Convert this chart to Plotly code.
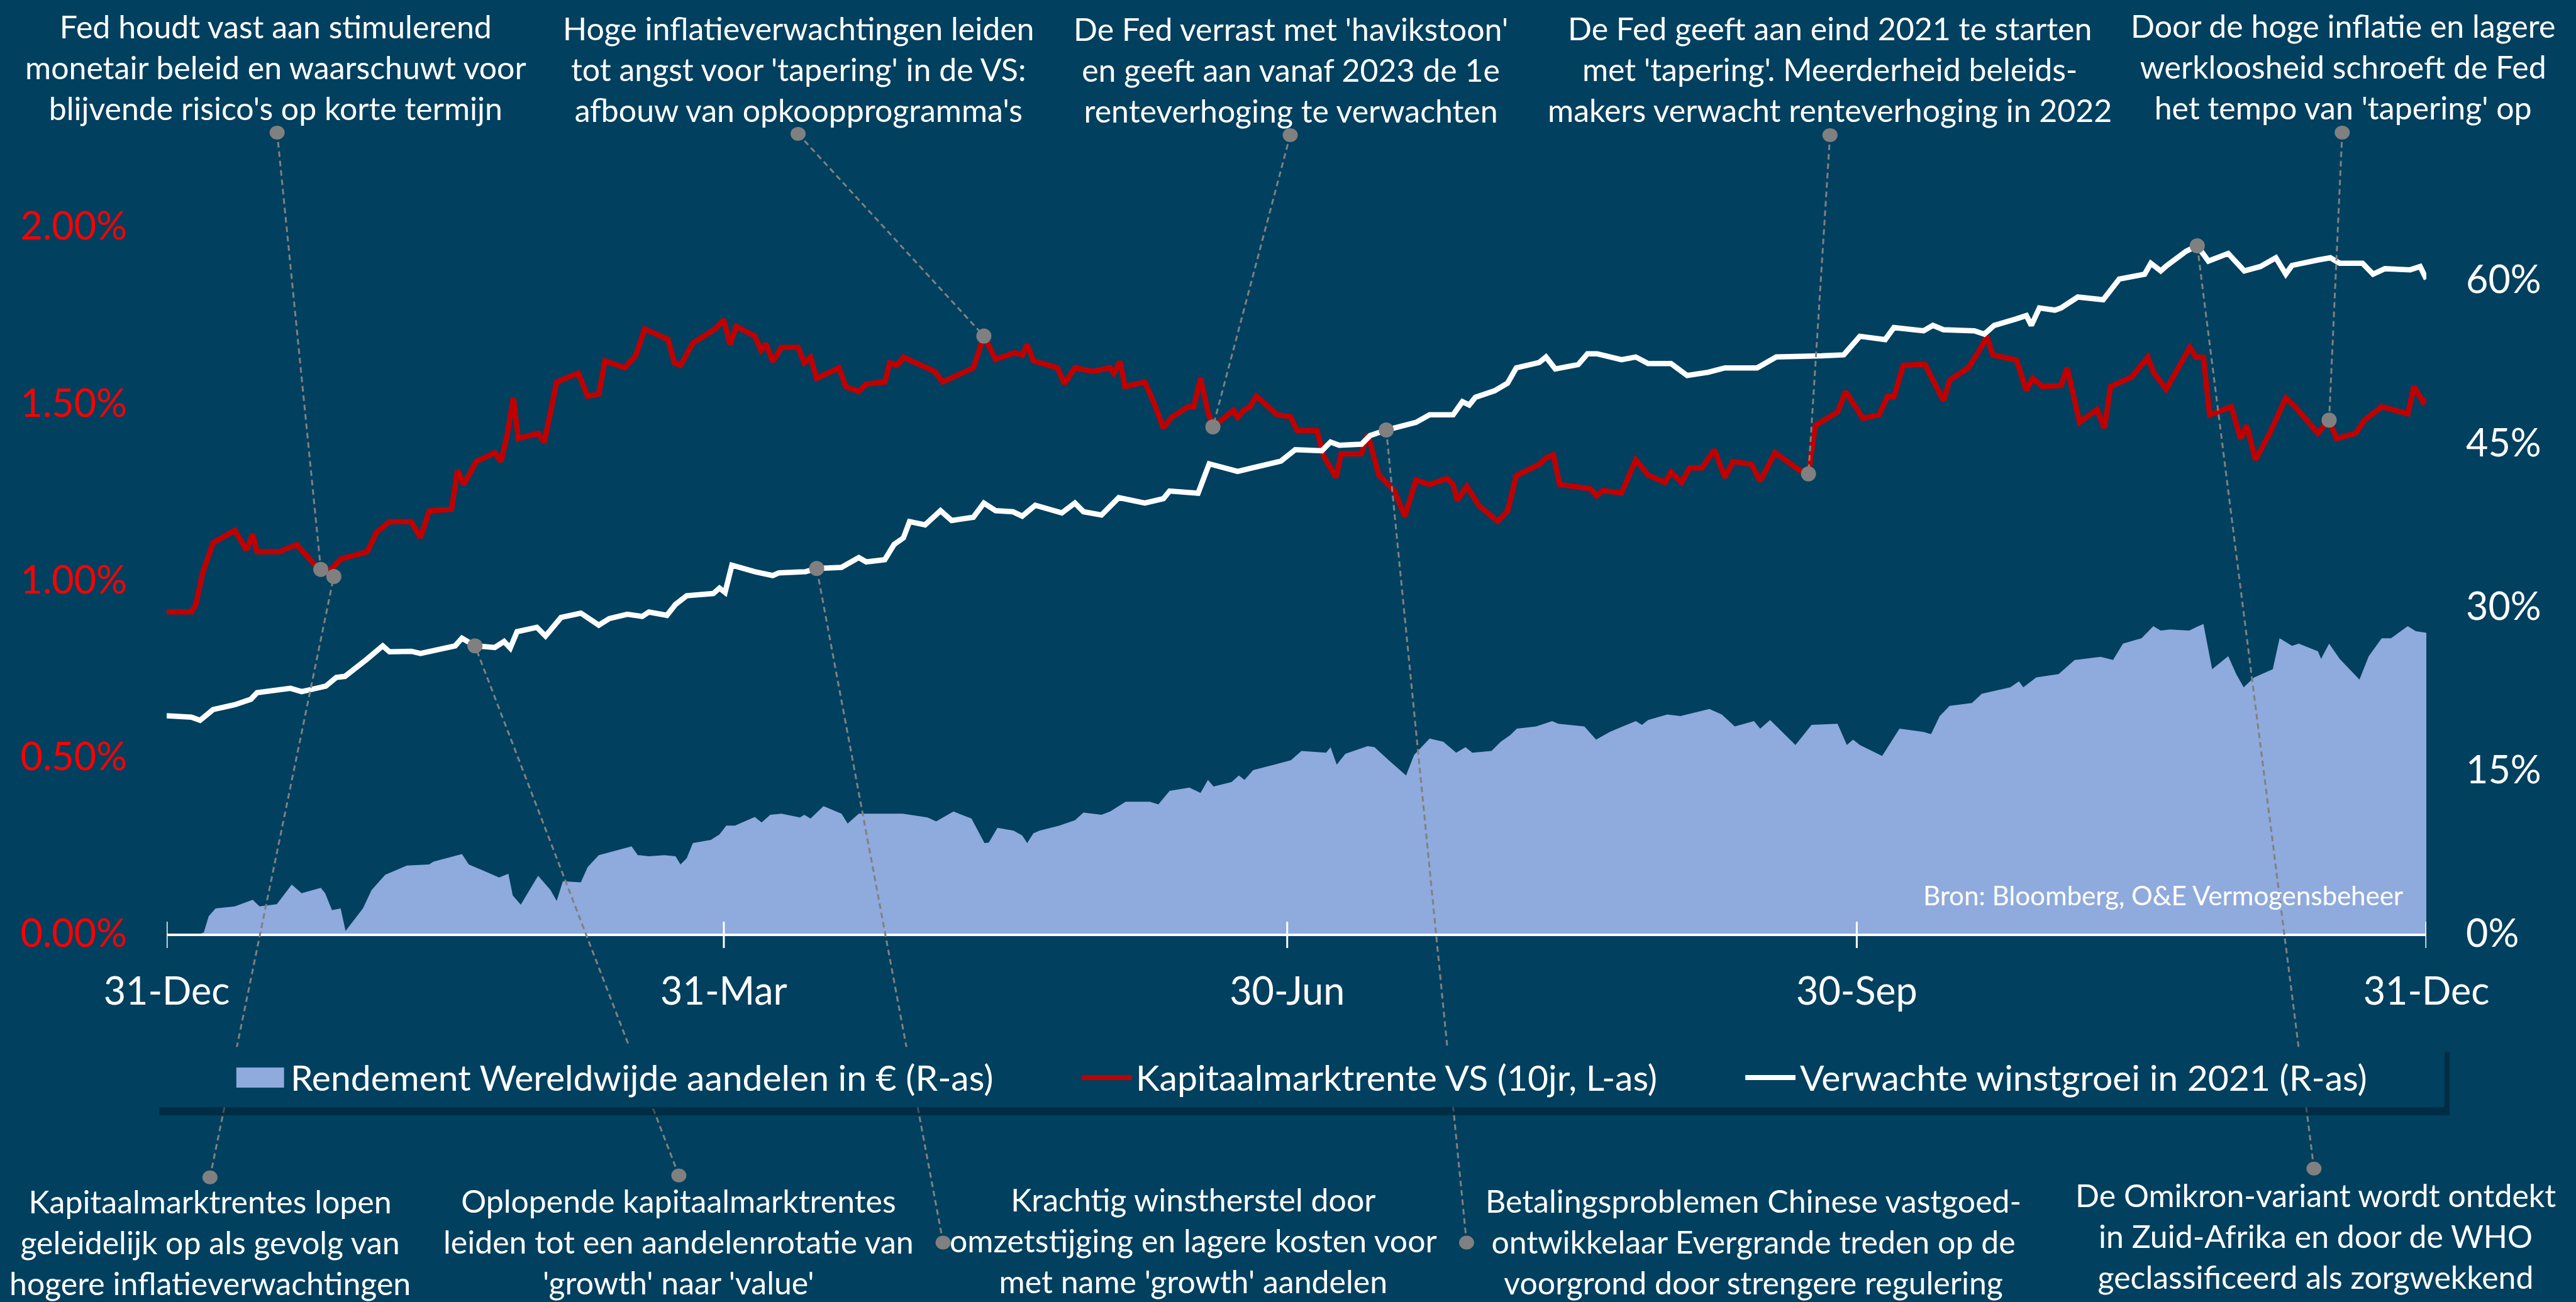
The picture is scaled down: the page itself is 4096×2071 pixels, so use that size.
import pandas as pd
import plotly.graph_objects as go

# ---------------- data ----------------
BASE_DATE = "2020-12-31"

x_tick_days = [0, 90, 181, 273, 365]
x_tick_text = ["31-Dec", "31-Mar", "30-Jun", "30-Sep", "31-Dec"]
left_tick_vals = [0.0, 0.5, 1.0, 1.5, 2.0]
left_tick_text = ["0.00%", "0.50%", "1.00%", "1.50%", "2.00%"]
right_tick_vals = [0, 15, 30, 45, 60]
right_tick_text = ["0%", "15%", "30%", "45%", "60%"]

# Kapitaalmarktrente VS (10jr) in %, days after 31-Dec-2020
rente_days = [0, 4, 4.7, 5.8, 7.5, 11, 12.9, 13.9, 14.6, 18.2, 21, 24.6, 26, 28.2, 32.4, 33.9, 36, 39.5, 41, 42.4,
              46, 47, 48, 50, 53, 54, 55, 56, 56.8, 60, 61, 63, 66.5, 68, 69.8, 70.8, 74, 75.8, 77.2, 81,
              82, 83, 85, 88.6, 90, 91, 92, 95, 96, 96.8, 97.9, 99.3, 102, 103, 104, 105, 108.6, 109.7, 111.8, 113,
              116, 116.8, 118, 119, 124, 125.4, 130.3, 132, 133.9, 137, 138.2, 139, 140, 143.9, 145, 146.7, 149.6, 152.4, 153, 154,
              154.8, 158, 159.5, 161, 162.3, 165, 165.9, 167, 168.2, 169, 172.3, 173, 174, 175, 176, 179.4, 181.5, 182.6, 185.8, 186.9,
              188.9, 189.7, 193, 194, 195.8, 198.3, 200, 201.8, 204, 206.8, 207.8, 208.5, 210, 212, 215, 216.6, 218, 221.7, 222.8, 224,
              225, 230, 231, 232, 235, 237.3, 239.3, 242, 243, 244.7, 246, 248, 250, 251.7, 253, 256, 257.4, 259.8, 263.6, 265.2,
              266.3, 269.9, 271.2, 274, 276.6, 278, 279, 280.5, 284, 287, 288, 291, 292.6, 294, 295, 298.8, 300.4, 301.4, 303, 306,
              307, 309, 311.8, 313, 314, 317.4, 320, 321, 323, 326.8, 327.8, 329, 330, 332, 333.5, 335, 336, 337.4, 339.7, 342.3,
              343.8, 347.5, 349.3, 350.5, 353.6, 355, 357.8, 362, 363, 364.5, 365]
rente_vals = [0.91, 0.91, 0.93, 1.02, 1.105, 1.14, 1.085, 1.13, 1.08, 1.08, 1.10, 1.03, 1.02, 1.06, 1.08, 1.135, 1.165, 1.165, 1.12, 1.195,
              1.20, 1.31, 1.27, 1.335, 1.36, 1.335, 1.41, 1.515, 1.40, 1.415, 1.39, 1.56, 1.585, 1.52, 1.526, 1.62, 1.60, 1.636, 1.71, 1.68,
              1.614, 1.607, 1.67, 1.71, 1.736, 1.666, 1.717, 1.69, 1.65, 1.668, 1.618, 1.658, 1.658, 1.614, 1.63, 1.57, 1.60, 1.547, 1.533, 1.554,
              1.56, 1.614, 1.607, 1.63, 1.59, 1.56, 1.60, 1.69, 1.624, 1.643, 1.636, 1.666, 1.62, 1.60, 1.555, 1.60, 1.59, 1.60, 1.585, 1.618,
              1.547, 1.56, 1.50, 1.43, 1.46, 1.49, 1.49, 1.57, 1.475, 1.433, 1.48, 1.46, 1.48, 1.49, 1.52, 1.467, 1.462, 1.423, 1.423, 1.35,
              1.29, 1.357, 1.357, 1.413, 1.297, 1.253, 1.18, 1.283, 1.27, 1.287, 1.27, 1.225, 1.265, 1.21, 1.166, 1.195, 1.295, 1.327, 1.345, 1.354,
              1.27, 1.258, 1.238, 1.253, 1.246, 1.34, 1.297, 1.276, 1.305, 1.276, 1.317, 1.317, 1.368, 1.29, 1.335, 1.327, 1.28, 1.36, 1.312, 1.30,
              1.437, 1.475, 1.533, 1.457, 1.467, 1.52, 1.518, 1.607, 1.61, 1.507, 1.565, 1.60, 1.643, 1.688, 1.636, 1.622, 1.536, 1.57, 1.547, 1.55,
              1.60, 1.446, 1.482, 1.43, 1.547, 1.574, 1.63, 1.585, 1.54, 1.658, 1.63, 1.63, 1.467, 1.482, 1.49, 1.40, 1.437, 1.34, 1.415, 1.515,
              1.49, 1.415, 1.452, 1.40, 1.415, 1.452, 1.49, 1.47, 1.547, 1.503, 1.511]

# Verwachte winstgroei in 2021 in %
winst_days = [0, 4, 5.4, 7.5, 11, 13.6, 14.6, 18.2, 20, 21.8, 25.7, 27.4, 28.8, 32.4, 34.9, 36, 39.5, 41, 46.6, 47.7,
              49.8, 53, 54.5, 55.5, 56.6, 59.8, 61.2, 63.7, 66.9, 69.8, 71.5, 74.4, 76.8, 77.9, 80.8, 82.2, 84, 88.3, 89.3, 90.2,
              91.3, 95, 97.9, 98.9, 103.2, 105, 109, 111.8, 113, 116, 117.5, 119, 120, 122.5, 125, 126.8, 130.3, 132, 133.9, 136.7,
              138.2, 140.3, 144.6, 146.7, 148.1, 151, 153.8, 158, 161, 162, 166.6, 168.4, 173, 175.2, 180, 182.3, 186.6, 188, 189.4, 193,
              194.4, 197, 200.4, 201.8, 204, 207.8, 209.3, 210.4, 211.4, 214.5, 216.6, 218, 221.7, 222.8, 224.3, 228, 229.5, 231, 235, 237.3,
              239.3, 243, 245.6, 249, 251.7, 256.9, 260, 265.7, 267.3, 270.9, 273.5, 277.6, 279, 283.8, 285.3, 287, 292, 293.6, 295.2, 298.8,
              300.4, 301.2, 302.5, 305, 306, 308.7, 312.8, 315.4, 319.5, 320.5, 322.1, 323.1, 326.2, 328, 329.8, 333, 335.6, 338.2, 340.7, 342.3,
              343.3, 347.5, 349.5, 351, 354.7, 356.4, 358.3, 362.4, 364, 365]
winst_vals = [19.98, 19.86, 19.57, 20.55, 21.0, 21.5, 22.1, 22.3, 22.5, 22.2, 22.7, 23.5, 23.6, 25.2, 26.4, 25.85, 25.9, 25.7, 26.4, 27.1,
              26.4, 26.25, 26.8, 26.2, 27.7, 28.1, 27.3, 29.0, 29.4, 28.3, 28.9, 29.3, 29.1, 29.5, 29.2, 30.2, 31.0, 31.2, 31.7, 31.3,
              33.8, 33.2, 32.85, 33.1, 33.2, 33.5, 33.6, 34.5, 34.1, 34.3, 35.7, 36.3, 37.8, 37.5, 38.8, 37.9, 38.2, 39.5, 38.8, 38.7,
              38.3, 39.3, 38.6, 39.5, 38.7, 38.4, 40.0, 39.5, 39.9, 40.6, 40.4, 43.1, 42.4, 42.7, 43.35, 44.4, 44.3, 45.1, 44.8, 44.9,
              45.7, 46.2, 46.7, 46.9, 47.6, 47.6, 48.8, 48.5, 49.2, 49.8, 50.5, 51.9, 52.4, 52.9, 51.8, 52.2, 53.2, 53.2, 52.65, 52.9,
              52.3, 52.3, 51.2, 51.5, 51.9, 51.9, 52.9, 52.9, 53.0, 53.1, 54.8, 54.5, 55.6, 55.3, 55.8, 55.4, 55.3, 55.0, 55.8, 56.4,
              56.7, 55.8, 57.4, 57.2, 57.4, 58.4, 58.15, 60.05, 60.5, 61.5, 60.8, 61.3, 62.6, 63.1, 61.7, 62.4, 60.8, 61.2, 62.0, 60.5,
              61.3, 61.8, 62.0, 61.5, 61.5, 60.5, 61.0, 60.9, 61.2, 60.05]

# Rendement Wereldwijde aandelen in EUR in %
rend_days = [0, 5.5, 6, 6.8, 7.9, 11, 13.9, 15, 17.8, 20.2, 21.8, 24.9, 25.6, 26.7, 28.1, 28.9, 31.7, 33.1, 35.3, 38.8,
             42.4, 43.1, 47.7, 48.8, 53.7, 55.2, 55.9, 57.2, 60, 62, 63, 64, 66.9, 68, 69.8, 75.1, 76.1, 77.9, 80.4, 82.2,
             83, 84, 85, 87.9, 89.3, 90.4, 91.8, 95, 96.1, 97.5, 99.3, 102.3, 103, 104, 106.1, 109, 110, 111.8, 118.9, 122.9,
             124.3, 127.1, 130, 132.1, 132.8, 134.2, 136.8, 138.2, 139, 140, 141, 144.2, 146.7, 148.1, 151, 152.4, 154.9, 158.8, 160.2, 162,
             165.2, 167, 168.2, 169.1, 172, 173.2, 174.1, 175.5, 181.6, 183.3, 187.3, 188, 189, 190.4, 194, 195.1, 197.6, 200.2, 201.5, 204,
             206.2, 208.3, 209.8, 210.9, 214, 215.5, 217, 218.1, 221.2, 223.8, 224.8, 229, 230.9, 233.1, 235.2, 237.3, 238.3, 239.3, 242.4, 244.5,
             249.2, 251.2, 253.3, 256.4, 257.4, 259, 263.1, 265.7, 269.9, 271.4, 272.4, 273.5, 277.1, 279.9, 283.8, 285, 286.4, 288, 291.6, 293.2,
             297.8, 299.2, 299.9, 302, 305.6, 308.2, 312.4, 314.4, 316, 319, 320.9, 322.1, 323.6, 326.7, 327.8, 329, 330.4, 333, 334.3, 335.5,
             337.2, 340.2, 341.3, 343.3, 344.4, 347.5, 348, 349.3, 351, 354.2, 355.7, 357.8, 359.3, 362, 363.3, 365]
rend_vals = [0, 0, 0.1, 1.6, 2.3, 2.5, 3.1, 2.5, 2.7, 4.5, 3.7, 4.2, 3.7, 2.15, 2.3, 0.25, 2.3, 4.0, 5.4, 6.25,
             6.35, 6.6, 7.3, 6.35, 5.15, 5.5, 3.5, 2.65, 5.3, 4.0, 3.0, 4.8, 4.7, 6.1, 7.2, 8.0, 7.2, 7.1, 7.2, 7.1,
             6.35, 6.9, 8.3, 8.6, 9.1, 9.9, 9.9, 10.7, 10.2, 10.9, 11.0, 10.65, 10.9, 10.55, 11.7, 11.0, 10.1, 11.0, 11.0, 10.65,
             10.3, 11.2, 10.55, 8.3, 8.35, 9.7, 9.45, 9.0, 8.3, 9.2, 9.45, 9.9, 10.4, 11.1, 10.9, 11.2, 12.1, 12.1, 11.85, 13.1,
             13.4, 12.9, 14.1, 13.5, 13.9, 14.5, 14.1, 15.0, 15.9, 16.75, 16.6, 17.1, 15.5, 16.5, 17.2, 17.1, 15.8, 14.5, 16.4, 17.9,
             17.6, 16.6, 17.1, 16.6, 16.75, 17.6, 18.2, 18.8, 19.0, 19.5, 19.25, 19.0, 17.8, 18.5, 19.0, 19.5, 19.15, 19.6, 20.1, 19.95,
             20.6, 20.1, 19.0, 19.5, 18.8, 19.6, 17.3, 19.15, 19.25, 17.3, 17.8, 17.3, 16.3, 18.8, 18.5, 18.3, 19.95, 20.9, 21.15, 22.0,
             22.6, 23.15, 22.6, 23.5, 23.8, 25.1, 25.4, 25.1, 26.6, 27.1, 28.2, 27.8, 27.9, 27.8, 28.1, 28.4, 24.25, 25.45, 23.8, 22.6,
             23.5, 24.25, 27.1, 26.4, 26.6, 25.9, 25.2, 26.6, 25.2, 23.3, 25.45, 27.1, 27.1, 28.2, 27.75, 27.6]

# Events: points on the lines that the notes refer to
top_event_days = [24.9, 132, 169, 265.2, 349.3]          # on the interest rate line (L-as)
top_event_vals = [1.03, 1.69, 1.433, 1.30, 1.452]
top_event_text = [
    "Fed houdt vast aan stimulerend<br>monetair beleid en waarschuwt voor<br>blijvende risico's op korte termijn",
    "Hoge inflatieverwachtingen leiden<br>tot angst voor 'tapering' in de VS:<br>afbouw van opkoopprogramma's",
    "De Fed verrast met 'havikstoon'<br>en geeft aan vanaf 2023 de 1e<br>renteverhoging te verwachten",
    "De Fed geeft aan eind 2021 te starten<br>met 'tapering'. Meerderheid beleids-<br>makers verwacht renteverhoging in 2022",
    "Door de hoge inflatie en lagere<br>werkloosheid schroeft de Fed<br>het tempo van 'tapering' op",
]
bottom_event_axis = ["y", "y2", "y2", "y2", "y2"]
bottom_event_days = [27, 49.8, 105, 197, 328]
bottom_event_vals = [1.01, 26.4, 33.5, 46.2, 63.1]
bottom_event_text = [
    "Kapitaalmarktrentes lopen<br>geleidelijk op als gevolg van<br>hogere inflatieverwachtingen",
    "Oplopende kapitaalmarktrentes<br>leiden tot een aandelenrotatie van<br>'growth' naar 'value'",
    "Krachtig winstherstel door<br>omzetstijging en lagere kosten voor<br>met name 'growth' aandelen",
    "Betalingsproblemen Chinese vastgoed-<br>ontwikkelaar Evergrande treden op de<br>voorgrond door strengere regulering",
    "De Omikron-variant wordt ontdekt<br>in Zuid-Afrika en door de WHO<br>geclassificeerd als zorgwekkend",
]

series_names = ["Rendement Wereldwijde aandelen in € (R-as)",
                "Kapitaalmarktrente VS (10jr, L-as)",
                "Verwachte winstgroei in 2021 (R-as)"]
source_text = "Bron: Bloomberg, O&E Vermogensbeheer"

# ---------------- layout geometry (reference pixels, scaled) ----------------
S = 0.998
W, H = 4096, 2071
ML = 266 * S
PW = 3600 * S
PT = 150 * S
PH = 1337.5 * S
MR = W - ML - PW
MB = H - PT - PH
LMAX = 1337.5 / 563.5
RMAX = 1337.5 / 17.37

BG = "#01405F"
RED = "#C00000"
AREA = "#8FAADC"
GREY = "#808080"
FONT = "Lato"


def ref_paper(xr, yr):
    return (xr * S - ML) / PW, (PT + PH - yr * S) / PH


def data_paper(day, val, axis):
    vmax = LMAX if axis == "y" else RMAX
    return day / 365.0, val / vmax


def to_dates(days):
    return pd.Timestamp(BASE_DATE) + pd.to_timedelta(days, unit="D")


fig = go.Figure()
fig.add_trace(go.Scatter(x=to_dates(rend_days), y=rend_vals, yaxis="y2", mode="lines",
                         fill="tozeroy", fillcolor=AREA, line=dict(width=0, color=AREA),
                         name=series_names[0], showlegend=False, hoverinfo="skip"))
fig.add_trace(go.Scatter(x=to_dates(rente_days), y=rente_vals, yaxis="y", mode="lines",
                         line=dict(color=RED, width=8.5), name=series_names[1], showlegend=False))
fig.add_trace(go.Scatter(x=to_dates(winst_days), y=winst_vals, yaxis="y2", mode="lines",
                         line=dict(color="white", width=8.5), name=series_names[2], showlegend=False))

# event dots on the lines
red_dx = list(top_event_days) + [d for d, a in zip(bottom_event_days, bottom_event_axis) if a == "y"]
red_dy = list(top_event_vals) + [v for v, a in zip(bottom_event_vals, bottom_event_axis) if a == "y"]
wh_dx = [d for d, a in zip(bottom_event_days, bottom_event_axis) if a == "y2"]
wh_dy = [v for v, a in zip(bottom_event_vals, bottom_event_axis) if a == "y2"]
fig.add_trace(go.Scatter(x=to_dates(red_dx), y=red_dy, yaxis="y", mode="markers",
                         marker=dict(color=GREY, size=24, line=dict(width=0)), showlegend=False, hoverinfo="skip"))
fig.add_trace(go.Scatter(x=to_dates(wh_dx), y=wh_dy, yaxis="y2", mode="markers",
                         marker=dict(color=GREY, size=24, line=dict(width=0)), showlegend=False, hoverinfo="skip"))

shapes = []
annotations = []

# note positions (reference pixels): text centre and small dot at the note
top_text_pos = [(440, 107), (1272, 110), (2057, 111), (2916, 110), (3733, 106)]
top_dot_pos = [(442, 211), (1272, 213), (2056, 215), (2916, 215), (3732, 211)]
bot_text_pos = [(335, 1979), (1082, 1978), (1902, 1976), (2794, 1978), (3690, 1969)]
bot_dot_pos = [(335, 1876), (1082, 1873), (1503, 1980), (2337, 1980), (3687, 1862)]

NOTE_FS = 50


def connector(dot, day, val, axis):
    x0, y0 = ref_paper(*dot)
    x1, y1 = data_paper(day, val, axis)
    shapes.append(dict(type="line", xref="paper", yref="paper", x0=x0, y0=y0, x1=x1, y1=y1,
                       line=dict(color=GREY, width=3, dash="9px,6px"), layer="above"))
    shapes.append(dict(type="circle", xref="paper", yref="paper", xsizemode="pixel", ysizemode="pixel",
                       xanchor=x0, yanchor=y0, x0=-12, x1=12, y0=-11, y1=11,
                       fillcolor=GREY, line=dict(width=0), layer="above"))


for i in range(5):
    connector(top_dot_pos[i], top_event_days[i], top_event_vals[i], "y")
    tx, ty = ref_paper(*top_text_pos[i])
    annotations.append(dict(text=top_event_text[i], xref="paper", yref="paper", x=tx, y=ty,
                            xanchor="center", yanchor="middle", showarrow=False, align="center",
                            font=dict(family=FONT, size=NOTE_FS, color="white")))
for i in range(5):
    connector(bot_dot_pos[i], bottom_event_days[i], bottom_event_vals[i], bottom_event_axis[i])
    tx, ty = ref_paper(*bot_text_pos[i])
    annotations.append(dict(text=bottom_event_text[i], xref="paper", yref="paper", x=tx, y=ty,
                            xanchor="center", yanchor="middle", showarrow=False, align="center",
                            font=dict(family=FONT, size=NOTE_FS, color="white")))

# crossing tick marks on the x axis
for d in x_tick_days:
    shapes.append(dict(type="line", xref="x", yref="paper",
                       x0=to_dates([d])[0], x1=to_dates([d])[0],
                       y0=-23 * S / PH, y1=19 * S / PH,
                       line=dict(color="white", width=3), layer="above"))

# legend box with shadow
lx0, ly0 = ref_paper(246, 1668)
lx1, ly1 = ref_paper(3895, 1764)
sx0, sy0 = ref_paper(254, 1676)
sx1, sy1 = ref_paper(3903, 1777)
shapes.append(dict(type="rect", xref="paper", yref="paper", x0=sx0, y0=sy0, x1=sx1, y1=sy1,
                   fillcolor="rgba(0,22,36,0.45)", line=dict(width=0), layer="above"))
shapes.append(dict(type="rect", xref="paper", yref="paper", x0=lx0, y0=ly0, x1=lx1, y1=ly1,
                   fillcolor=BG, line=dict(width=0), layer="above"))
# legend keys
kx0, ky0 = ref_paper(377, 1701)
kx1, ky1 = ref_paper(453, 1733)
shapes.append(dict(type="rect", xref="paper", yref="paper", x0=kx0, y0=ky0, x1=kx1, y1=ky1,
                   fillcolor=AREA, line=dict(width=0), layer="above"))
for (a, b, col) in [(1724, 1804, RED), (2781, 2861, "white")]:
    ax0, ay = ref_paper(a, 1717)
    ax1, _ = ref_paper(b, 1717)
    shapes.append(dict(type="line", xref="paper", yref="paper", x0=ax0, y0=ay, x1=ax1, y1=ay,
                       line=dict(color=col, width=8), layer="above"))
LEG_FS = 57
for name, xstart in zip(series_names, [461, 1808, 2866]):
    tx, ty = ref_paper(xstart, 1716)
    annotations.append(dict(text=name, xref="paper", yref="paper", x=tx, y=ty, xanchor="left",
                            yanchor="middle", showarrow=False,
                            font=dict(family=FONT, size=LEG_FS, color="white")))

# source
tx, ty = ref_paper(3831, 1426)
annotations.append(dict(text=source_text, xref="paper", yref="paper", x=tx, y=ty, xanchor="right",
                        yanchor="middle", showarrow=False, font=dict(family=FONT, size=42, color="white")))

TICK_FS = 61
fig.update_layout(
    width=W, height=H,
    margin=dict(l=ML, r=MR, t=PT, b=MB, autoexpand=False),
    paper_bgcolor=BG, plot_bgcolor=BG,
    showlegend=False,
    hovermode=False,
    xaxis=dict(type="date", range=[to_dates([0])[0], to_dates([365])[0]],
               tickvals=to_dates(x_tick_days), ticktext=x_tick_text,
               showgrid=False, zeroline=False, showline=True, linecolor="white", linewidth=4,
               ticks="", ticklabelstandoff=36,
               tickfont=dict(family=FONT, size=TICK_FS, color="white")),
    yaxis=dict(range=[0, LMAX], tickvals=left_tick_vals, ticktext=left_tick_text,
               showgrid=False, zeroline=False, showline=False, ticks="", ticklabelstandoff=62,
               tickfont=dict(family=FONT, size=TICK_FS, color="#FF0000")),
    yaxis2=dict(range=[0, RMAX], tickvals=right_tick_vals, ticktext=right_tick_text,
                overlaying="y", side="right", anchor="x",
                showgrid=False, zeroline=False, showline=False, ticks="", ticklabelstandoff=62,
                tickfont=dict(family=FONT, size=TICK_FS, color="white")),
    shapes=shapes,
    annotations=annotations,
)

fig.write_html("out.html")
